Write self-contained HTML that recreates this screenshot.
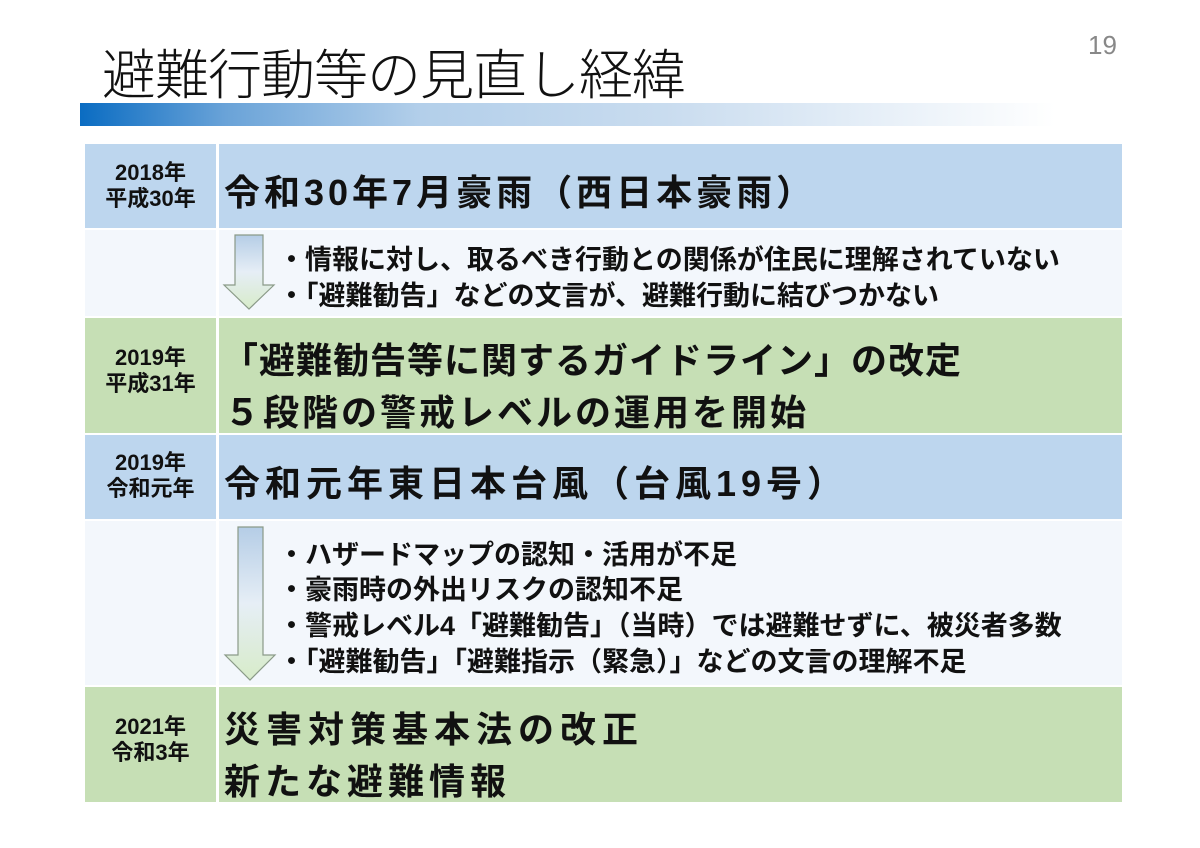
<!DOCTYPE html>
<html><head><meta charset="utf-8"><style>
body{margin:0;width:1200px;height:848px;background:#fff;position:relative;overflow:hidden;font-family:"Liberation Sans","Noto Sans CJK JP",sans-serif;}
.a{position:absolute;white-space:nowrap;}
.title{left:102px;top:31px;font-size:54px;font-weight:300;color:#111;letter-spacing:-1px;}
.num{left:1088px;top:30px;font-size:26px;color:#888;}
.bar{left:80px;top:103px;width:975px;height:23px;background:linear-gradient(90deg,#0a6cc2 0%,#6aa3d8 15%,#b3cfea 35%,#c9dcef 60%,#ffffff 100%);}
.row{position:absolute;left:85px;width:1037px;}
.sep{position:absolute;left:216px;width:3px;background:#fff;}
.yr{position:absolute;left:85px;width:131px;text-align:center;font-weight:bold;font-size:22px;line-height:26px;color:#111;}
.m{font-weight:bold;font-size:36px;color:#111;letter-spacing:1px;}
.b{font-weight:bold;font-size:27px;color:#111;}
</style></head><body>
<div class="a title">避難行動等の見直し経緯</div>
<div class="a num">19</div>
<div class="a bar"></div>

<div class="row" style="top:144px;height:84px;background:#bdd6ee"></div>
<div class="row" style="top:230px;height:86px;background:#f3f7fc"></div>
<div class="row" style="top:318px;height:115px;background:#c6dfb5"></div>
<div class="row" style="top:435px;height:84px;background:#bdd6ee"></div>
<div class="row" style="top:521px;height:164px;background:#f3f7fc"></div>
<div class="row" style="top:687px;height:115px;background:#c6dfb5"></div>
<div class="sep" style="top:144px;height:658px"></div>
<div class="a" style="left:85px;top:228px;width:1037px;height:2px;background:#fff"></div>
<div class="a" style="left:85px;top:316px;width:1037px;height:2px;background:#fff"></div>
<div class="a" style="left:85px;top:433px;width:1037px;height:2px;background:#fff"></div>
<div class="a" style="left:85px;top:519px;width:1037px;height:2px;background:#fff"></div>
<div class="a" style="left:85px;top:685px;width:1037px;height:2px;background:#fff"></div>

<div class="yr" style="top:160px">2018年<br>平成30年</div>
<div class="yr" style="top:345px">2019年<br>平成31年</div>
<div class="yr" style="top:450px">2019年<br>令和元年</div>
<div class="yr" style="top:714px">2021年<br>令和3年</div>

<div class="a m" style="left:224px;top:164px;letter-spacing:4px">令和30年7月豪雨（西日本豪雨）</div>
<div class="a m" style="left:222px;top:332px">「避難勧告等に関するガイドライン」の改定</div>
<div class="a m" style="left:224px;top:384px;letter-spacing:3px">５段階の警戒レベルの運用を開始</div>
<div class="a m" style="left:224px;top:455px;letter-spacing:5px">令和元年東日本台風（台風19号）</div>
<div class="a m" style="left:224px;top:701px;letter-spacing:6px">災害対策基本法の改正</div>
<div class="a m" style="left:224px;top:753px;letter-spacing:5px">新たな避難情報</div>

<div class="a b" style="left:278px;top:238px">・情報に対し、取るべき行動との関係が住民に理解されていない</div>
<div class="a b" style="left:278px;top:274px">・「避難勧告」などの文言が、避難行動に結びつかない</div>
<div class="a b" style="left:278px;top:533px">・ハザードマップの認知・活用が不足</div>
<div class="a b" style="left:278px;top:568px">・豪雨時の外出リスクの認知不足</div>
<div class="a b" style="left:278px;top:604px">・警戒レベル4「避難勧告」（当時）では避難せずに、被災者多数</div>
<div class="a b" style="left:278px;top:640px">・「避難勧告」「避難指示（緊急）」などの文言の理解不足</div>

<svg class="a" style="left:0;top:0" width="1200" height="848">
<defs><linearGradient id="g" x1="0" y1="0" x2="0" y2="1"><stop offset="0" stop-color="#b5cde6"/><stop offset="0.5" stop-color="#e6eef6"/><stop offset="1" stop-color="#d7ebc9"/></linearGradient></defs>
<polygon points="235,235 263,235 263,285 274,285 249,309 224,285 235,285" fill="url(#g)" stroke="#8a9a88" stroke-width="1.2"/>
<polygon points="238,527 263,527 263,655 275,655 250,680 225,655 238,655" fill="url(#g)" stroke="#8a9a88" stroke-width="1.2"/>
</svg>
</body></html>
